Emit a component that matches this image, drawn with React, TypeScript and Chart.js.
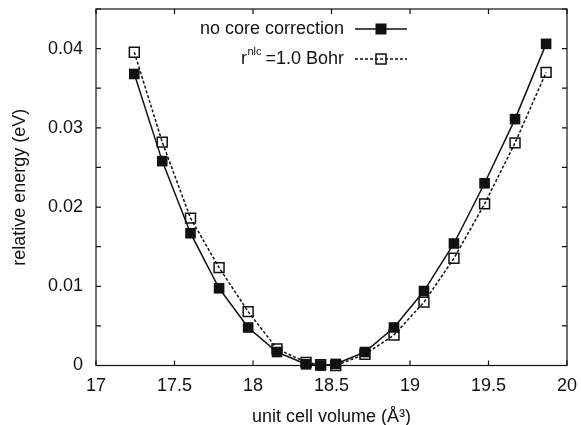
import React, { useEffect, useRef } from "react";
import { Chart, registerables } from "chart.js";

Chart.register(...registerables);

const volumes = [17.244, 17.422, 17.602, 17.784, 17.969, 18.153, 18.338, 18.431, 18.527, 18.713, 18.898, 19.089, 19.28, 19.475, 19.669, 19.867];
const noCoreEnergy = [0.0368, 0.0258, 0.0167, 0.00975, 0.0048, 0.0017, 0.00015, 0.0, 0.0002, 0.0017, 0.0048, 0.0094, 0.0154, 0.023, 0.0311, 0.0406];
const nlcEnergy = [0.03955, 0.0282, 0.0186, 0.01235, 0.0068, 0.0021, 0.0004, 0.0001, 0.0, 0.0014, 0.00385, 0.008, 0.01353, 0.0204, 0.0281, 0.037];
const xTickValues = [17, 17.5, 18, 18.5, 19, 19.5, 20];
const xTickLabels = ["17", "17.5", "18", "18.5", "19", "19.5", "20"];
const yTickValues = [0, 0.01, 0.02, 0.03, 0.04];
const yTickLabels = ["0", "0.01", "0.02", "0.03", "0.04"];
const yMinorStep = 0.005;
const seriesNames = ["no core correction", "=1.0 Bohr"];

const FONT = "'Liberation Sans', Arial, Helvetica, sans-serif";
const FS = 18;

const framePlugin = {
  id: "frameTicks",
  afterDraw(chart: any) {
    const { ctx, chartArea } = chart;
    const { left, right, top, bottom } = chartArea;
    const xs = chart.scales.x;
    const ys = chart.scales.y;
    ctx.save();
    ctx.strokeStyle = "#111";
    ctx.lineWidth = 1.2;
    ctx.strokeRect(left, top, right - left, bottom - top);
    const tl = 5;
    ctx.beginPath();
    xTickValues.forEach((v) => {
      const px = xs.getPixelForValue(v);
      ctx.moveTo(px, bottom);
      ctx.lineTo(px, bottom - tl);
      ctx.moveTo(px, top);
      ctx.lineTo(px, top + tl);
    });
    for (let v = 0; v <= ys.max + 1e-9; v += yMinorStep) {
      const py = ys.getPixelForValue(v);
      ctx.moveTo(left, py);
      ctx.lineTo(left + tl, py);
      ctx.moveTo(right, py);
      ctx.lineTo(right - tl, py);
    }
    ctx.stroke();

    // legend (gnuplot style)
    const textRight = 344;
    const sampleL = 355;
    const sampleR = 407;
    const mid = (sampleL + sampleR) / 2;
    const rows = [29, 59];
    ctx.fillStyle = "#111";
    ctx.textBaseline = "middle";
    ctx.textAlign = "right";
    ctx.font = `${FS}px ${FONT}`;
    ctx.fillText(seriesNames[0], textRight, rows[0]);
    const main = seriesNames[1];
    ctx.fillText(main, textRight, rows[1]);
    const wMain = ctx.measureText(main).width;
    ctx.font = `11px ${FONT}`;
    const sup = "nlc";
    const supRight = textRight - wMain - 4;
    ctx.fillText(sup, supRight, rows[1] - 7);
    const wSup = ctx.measureText(sup).width;
    ctx.font = `${FS}px ${FONT}`;
    ctx.fillText("r", supRight - wSup - 0.5, rows[1]);

    ctx.lineWidth = 1.5;
    ctx.setLineDash([]);
    ctx.beginPath();
    ctx.moveTo(sampleL, rows[0]);
    ctx.lineTo(sampleR, rows[0]);
    ctx.stroke();
    ctx.fillRect(mid - 5.5, rows[0] - 5.5, 11, 11);
    ctx.setLineDash([3, 2]);
    ctx.beginPath();
    ctx.moveTo(sampleL, rows[1]);
    ctx.lineTo(sampleR, rows[1]);
    ctx.stroke();
    ctx.setLineDash([]);
    ctx.lineWidth = 1.5;
    ctx.strokeRect(mid - 5, rows[1] - 5, 10, 10);
    ctx.restore();
  },
};

export default function App() {
  const ref = useRef<HTMLCanvasElement>(null);
  useEffect(() => {
    if (!ref.current) return;
    const chart = new Chart(ref.current, {
      type: "line",
      data: {
        datasets: [
          {
            label: seriesNames[0],
            data: volumes.map((v, i) => ({ x: v, y: noCoreEnergy[i] })),
            borderColor: "#111",
            backgroundColor: "#111",
            borderWidth: 1.5,
            pointStyle: "rect",
            pointRadius: 7.5,
            pointBorderWidth: 0,
            pointBackgroundColor: "#111",
            tension: 0,
            clip: false,
            order: 0,
          },
          {
            label: "r nlc " + seriesNames[1],
            data: volumes.map((v, i) => ({ x: v, y: nlcEnergy[i] })),
            borderColor: "#111",
            backgroundColor: "rgba(0,0,0,0)",
            borderWidth: 1.5,
            borderDash: [3, 2],
            pointStyle: "rect",
            pointRadius: 7,
            pointBorderWidth: 1.5,
            pointBorderColor: "#111",
            pointBackgroundColor: "rgba(0,0,0,0)",
            tension: 0,
            clip: false,
            order: 1,
          },
        ],
      },
      options: {
        responsive: false,
        animation: false,
        devicePixelRatio: 1,
        layout: { padding: { top: 9, right: 14, left: 0, bottom: 0 } },
        plugins: { legend: { display: false }, tooltip: { enabled: false } },
        scales: {
          x: {
            type: "linear",
            min: 17,
            max: 20,
            grid: { display: false, drawTicks: false },
            border: { display: false },
            afterBuildTicks: (s: any) => {
              s.ticks = xTickValues.map((v) => ({ value: v }));
            },
            ticks: {
              padding: 10,
              color: "#111",
              font: { family: FONT, size: FS },
              callback: (v: any) => {
                const idx = xTickValues.findIndex((t) => Math.abs(t - Number(v)) < 1e-9);
                return idx >= 0 ? xTickLabels[idx] : "";
              },
            },
            title: {
              display: true,
              text: "unit cell volume (Å³)",
              color: "#111",
              font: { family: FONT, size: FS, lineHeight: 1 },
              padding: { top: 0, bottom: -1 },
            },
            afterFit: (s: any) => {
              s.height = 59.5;
              s.paddingLeft = 0;
              s.paddingRight = 0;
            },
          },
          y: {
            type: "linear",
            min: 0,
            max: 0.045,
            grid: { display: false, drawTicks: false },
            border: { display: false },
            afterBuildTicks: (s: any) => {
              s.ticks = yTickValues.map((v) => ({ value: v }));
            },
            ticks: {
              padding: 13,
              color: "#111",
              font: { family: FONT, size: FS },
              callback: (v: any) => {
                const idx = yTickValues.findIndex((t) => Math.abs(t - Number(v)) < 1e-9);
                return idx >= 0 ? yTickLabels[idx] : "";
              },
            },
            title: {
              display: true,
              text: "relative energy (eV)",
              color: "#111",
              font: { family: FONT, size: FS, lineHeight: 1 },
              padding: { top: 11.5, bottom: 0 },
            },
            afterFit: (s: any) => {
              s.width = 96;
              s.paddingTop = 0;
              s.paddingBottom = 0;
            },
          },
        },
      },
      plugins: [framePlugin],
    });
    return () => chart.destroy();
  }, []);
  return (
    <div style={{ position: "fixed", left: 0, top: 0, width: 581, height: 425, background: "#fff" }}>
      <canvas ref={ref} width={581} height={425} />
    </div>
  );
}
